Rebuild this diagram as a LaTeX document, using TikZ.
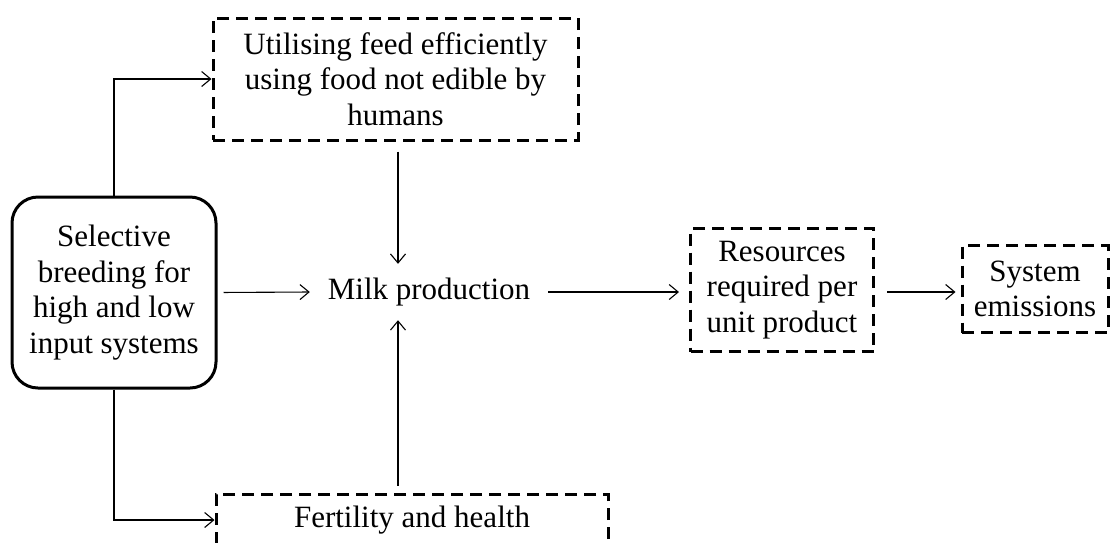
\documentclass[tikz,border=0pt]{standalone}
\usepackage{fontspec}
\setmainfont{Liberation Serif}
\usetikzlibrary{arrows.meta}
\begin{document}
\begin{tikzpicture}[x=1pt,y=-1pt,
  every node/.style={font=\fontsize{31}{35.5}\selectfont, align=center, inner sep=0pt},
  dbox/.style={draw, line width=3pt, dash pattern=on 12pt off 7pt},
  sbox/.style={draw, line width=3pt, rounded corners=26pt},
  arr/.style={line width=1.1pt, -{Straight Barb[length=9pt,width=15pt,line width=1.1pt]}}
]
\useasboundingbox (0,0) rectangle (1116,542);
\clip (0,0) rectangle (1116,542);
\fill[white] (0,0) rectangle (1116,542);
\node[sbox, minimum width=204pt, minimum height=191pt] (sel) at (114,292.5)
  {Selective\\breeding for\\high and low\\input systems};
\node[dbox, minimum width=365pt, minimum height=122pt] (util) at (395.5,79)
  {Utilising feed efficiently\\using food not edible by\\humans};
\node[minimum width=238pt, minimum height=56pt] (milk) at (429,292) {Milk production};
\node[dbox, minimum width=392pt, minimum height=52pt] (fert) at (412,520) {Fertility and health};
\node[dbox, minimum width=183pt, minimum height=123pt] (res) at (782,290)
  {Resources\\required per\\unit product};
\node[dbox, minimum width=146pt, minimum height=87pt] (sys) at (1035,289)
  {System\\emissions};
\draw[arr] (sel.north) |- (util.west);
\draw[arr] (sel.south) |- (fert.west);
\draw[arr, shorten <=6pt] (sel.east) -- (milk.west);
\draw[arr] ([xshift=2.5pt,yshift=-10pt]util.south) -- ([xshift=2.5pt]util.south |- milk.north);
\draw[arr] ([xshift=-14pt,yshift=7pt]fert.north) -- ([xshift=-14pt]fert.north |- milk.south);
\draw[arr, shorten >=10pt] (milk.east) -- (milk.east -| res.west);
\draw[arr, shorten <=12pt, shorten >=5pt] ([yshift=-2pt]res.east) -- ([yshift=-2pt]res.east -| sys.west);
\end{tikzpicture}
\end{document}
